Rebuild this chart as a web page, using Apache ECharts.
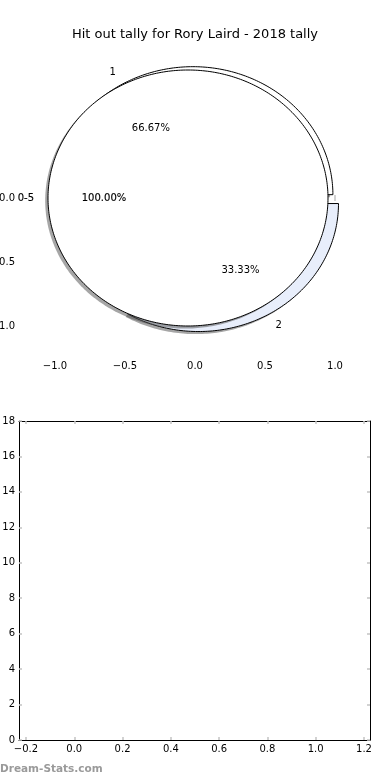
<!DOCTYPE html>
<html><head><meta charset="utf-8">
<script src="https://cdn.jsdelivr.net/npm/echarts@6/dist/echarts.min.js"></script>
<style>html,body{margin:0;padding:0;background:#fff}#c{width:390px;height:780px}</style>
</head><body><div id="c"></div>
<script>
const chartTitle = 'Hit out tally for Rory Laird - 2018 tally';
const pieACategories = ['1', '2'];
const pieAValues = [2, 1];
const pieAExplode = [0.03, 0.05];
const pieAColors = ['#ffffff', '#e8eefb'];
const pieBCategories = ['0-5'];
const pieBValues = [3];
const pieBExplode = [0.05];
const pieBColors = ['#ffffff'];
const pieXTicks = [-1, -0.5, 0, 0.5, 1];
const pieYTicks = [0, -0.5, -1];
const lowerXTicks = [-0.2, 0, 0.2, 0.4, 0.6, 0.8, 1.0, 1.2];
const lowerYMin = 0, lowerYMax = 18, lowerYStep = 2;
const watermark = 'Dream-Stats.com';

const FONT = '"DejaVu Sans", sans-serif';
const fmt = v => (v < 0 ? '\u2212' : '') + Math.abs(v).toFixed(1);

function buildWedges(cats, vals, explode, colors, heavy) {
  const total = vals.reduce((a, b) => a + b, 0);
  let acc = 0;
  return vals.map((v, i) => {
    const t0 = acc / total; acc += v; const t1 = acc / total;
    return { name: cats[i], frac: v / total, t0, t1, explode: explode[i], color: colors[i], heavy };
  });
}
const wedges = buildWedges(pieACategories, pieAValues, pieAExplode, pieAColors, false)
  .concat(buildWedges(pieBCategories, pieBValues, pieBExplode, pieBColors, true));

function geom(w) {
  const a0 = w.t0 * 2 * Math.PI, a1 = w.t1 * 2 * Math.PI, mid = (a0 + a1) / 2;
  return { a0, a1, mid, cx: w.explode * Math.cos(mid), cy: w.explode * Math.sin(mid) };
}
function wedgePoints(api, w, ox, oy) {
  const g = geom(w);
  const pts = [];
  const full = (w.t1 - w.t0) >= 0.9999;
  if (!full) pts.push(api.coord([g.cx + ox, g.cy + oy]));
  const n = Math.max(8, Math.ceil((g.a1 - g.a0) / (Math.PI / 180)));
  for (let k = 0; k <= n; k++) {
    const a = g.a0 + (g.a1 - g.a0) * k / n;
    pts.push(api.coord([g.cx + ox + Math.cos(a), g.cy + oy + Math.sin(a)]));
  }
  return pts;
}

const tickStyle = { color: '#c4c4c4', width: 1.5 };

const chart = echarts.init(document.getElementById('c'), null, { renderer: 'canvas' });
chart.setOption({
  animation: false,
  backgroundColor: '#ffffff',
  title: {
    text: chartTitle, left: 'center', top: 23,
    textStyle: { fontSize: 13, fontWeight: 'normal', color: '#000', fontFamily: FONT }
  },
  graphic: [{
    type: 'text', left: 0, top: 764,
    style: { text: watermark, fill: '#9a9a9a', font: 'bold 10.5px ' + FONT }
  }],
  grid: [
    { left: 20, width: 350, top: 38, height: 320, show: false, containLabel: false, outerBoundsMode: 'none' },
    { left: 19, width: 351, top: 421, height: 319, show: false, containLabel: false, outerBoundsMode: 'none' }
  ],
  xAxis: [
    { gridIndex: 0, type: 'value', min: -1.25, max: 1.25, position: 'bottom',
      axisLine: { show: false }, splitLine: { show: false },
      axisTick: { show: true, inside: true, length: 3, lineStyle: tickStyle, customValues: pieXTicks },
      axisLabel: { customValues: pieXTicks, formatter: fmt, fontSize: 10, color: '#000', fontFamily: FONT, margin: 3 } },
    { gridIndex: 0, type: 'value', min: -1.25, max: 1.25, position: 'top',
      axisLine: { show: false }, splitLine: { show: false },
      axisTick: { show: true, inside: true, length: 3, lineStyle: tickStyle, customValues: pieXTicks },
      axisLabel: { show: false } },
    { gridIndex: 1, type: 'value', min: -0.229, max: 1.225, position: 'bottom',
      axisLine: { show: true, onZero: false, lineStyle: { color: '#000', width: 1 } }, splitLine: { show: false },
      axisTick: { show: true, inside: true, length: 3, lineStyle: tickStyle, customValues: lowerXTicks },
      axisLabel: { customValues: lowerXTicks, formatter: fmt, fontSize: 10, color: '#000', fontFamily: FONT, margin: 4 } },
    { gridIndex: 1, type: 'value', min: -0.229, max: 1.225, position: 'top',
      axisLine: { show: true, onZero: false, lineStyle: { color: '#000', width: 1 } }, splitLine: { show: false },
      axisTick: { show: true, inside: true, length: 3, lineStyle: tickStyle, customValues: lowerXTicks },
      axisLabel: { show: false } }
  ],
  yAxis: [
    { gridIndex: 0, type: 'value', min: -1.25, max: 1.25, position: 'left',
      axisLine: { show: false }, splitLine: { show: false },
      axisTick: { show: true, inside: true, length: 3, lineStyle: tickStyle, customValues: pieYTicks },
      axisLabel: { customValues: pieYTicks, formatter: fmt, fontSize: 10, color: '#000', fontFamily: FONT, margin: 5 } },
    { gridIndex: 0, type: 'value', min: -1.25, max: 1.25, position: 'right',
      axisLine: { show: false }, splitLine: { show: false },
      axisTick: { show: true, inside: true, length: 3, lineStyle: tickStyle, customValues: pieYTicks },
      axisLabel: { show: false } },
    { gridIndex: 1, type: 'value', min: lowerYMin, max: lowerYMax, interval: lowerYStep, position: 'left',
      axisLine: { show: true, onZero: false, lineStyle: { color: '#000', width: 1 } }, splitLine: { show: false },
      axisTick: { show: true, inside: true, length: 3, lineStyle: tickStyle },
      axisLabel: { fontSize: 10, color: '#000', fontFamily: FONT, margin: 4 } },
    { gridIndex: 1, type: 'value', min: lowerYMin, max: lowerYMax, interval: lowerYStep, position: 'right',
      axisLine: { show: true, onZero: false, lineStyle: { color: '#000', width: 1 } }, splitLine: { show: false },
      axisTick: { show: true, inside: true, length: 3, lineStyle: tickStyle },
      axisLabel: { show: false } }
  ],
  series: [
    {
      type: 'custom', xAxisIndex: 0, yAxisIndex: 0, z: 2, clip: false, silent: true,
      data: wedges.map((w, i) => [0, 0, i]),
      renderItem: function (params, api) {
        const w = wedges[api.value(2)];
        return {
          type: 'group',
          children: [
            { type: 'polygon', shape: { points: wedgePoints(api, w, -0.02, -0.02) },
              style: { fill: 'rgba(77,77,77,0.5)' } },
            { type: 'polygon', shape: { points: wedgePoints(api, w, 0, 0) },
              style: { fill: w.color, stroke: '#000', lineWidth: 1 } }
          ]
        };
      }
    },
    {
      type: 'custom', xAxisIndex: 0, yAxisIndex: 0, z: 5, clip: false, silent: true,
      data: wedges.map((w, i) => [0, 0, i]),
      renderItem: function (params, api) {
        const w = wedges[api.value(2)];
        const g = geom(w);
        const lx = g.cx + 1.1 * Math.cos(g.mid), ly = g.cy + 1.1 * Math.sin(g.mid);
        const px = g.cx + 0.6 * Math.cos(g.mid), py = g.cy + 0.6 * Math.sin(g.mid);
        const lp = api.coord([lx, ly]), pp = api.coord([px, py]);
        const extra = w.heavy ? { stroke: '#000', lineWidth: 0.15 } : {};
        return {
          type: 'group',
          children: [
            { type: 'text', x: lp[0], y: lp[1],
              style: Object.assign({ text: w.name, fill: '#000', font: '10px ' + FONT,
                align: lx < 0 ? 'right' : 'left', verticalAlign: 'middle' }, extra) },
            { type: 'text', x: pp[0], y: pp[1],
              style: Object.assign({ text: (w.frac * 100).toFixed(2) + '%', fill: '#000', font: '10px ' + FONT,
                align: 'center', verticalAlign: 'middle' }, extra) }
          ]
        };
      }
    },
    { type: 'line', xAxisIndex: 2, yAxisIndex: 2, data: [] }
  ]
});
</script></body></html>
